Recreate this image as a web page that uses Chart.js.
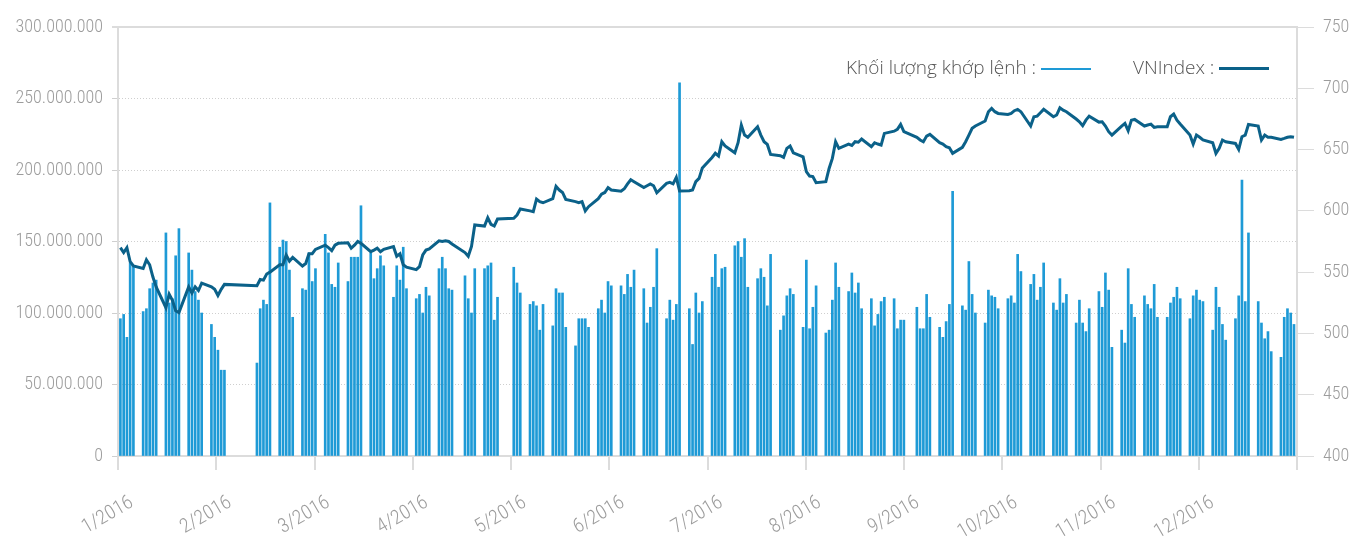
<!DOCTYPE html>
<html>
<head>
<meta charset="utf-8">
<script src="https://cdn.jsdelivr.net/npm/chart.js@4.4.1/dist/chart.umd.min.js"></script>
<style>
  html, body { margin: 0; padding: 0; background: #fff; }
  #wrap { position: relative; width: 1354px; height: 541px; }
  .legend-item {
    position: absolute;
    top: 53px;
    font-family: "Open Sans", "Noto Sans", sans-serif;
    font-weight: 300;
    font-size: 19px;
    line-height: 28px;
    color: #555;
    white-space: nowrap;
  }
  .legend-item i { display: inline-block; width: 50px; vertical-align: middle; margin-left: 5px; }
</style>
</head>
<body>
<div id="wrap">
  <canvas id="chart" width="1354" height="541"></canvas>
  <div class="legend-item" style="left:846px">Khối lượng khớp lệnh :<i style="border-top:2px solid #1e9ad6"></i></div>
  <div class="legend-item" style="left:1133px">VNIndex :<i style="border-top:3px solid #0b6189"></i></div>
</div>
<script>
// trading calendar 2016 (weekdays, minus market holidays)
const firstDay = "2016-01-04";
const lastDay = "2016-12-30";
const holidays = ["2016-02-08", "2016-02-09", "2016-02-10", "2016-02-11", "2016-02-12",
  "2016-04-18", "2016-05-02", "2016-05-03", "2016-09-02"];

const monthLabels = ["1/2016", "2/2016", "3/2016", "4/2016", "5/2016", "6/2016",
  "7/2016", "8/2016", "9/2016", "10/2016", "11/2016", "12/2016", ""];

// matched volume, millions of shares (one line per week)
const volumes = [
  96, 99, 83, 135, 132,
  101, 103, 117, 121, 123,
  156, 107, 110, 140, 159,
  142, 130, 115, 109, 100,
  92, 83, 74, 60, 60,
  65, 103, 109, 106, 177,
  146, 151, 150, 130, 97,
  117, 116, 142, 122, 131,
  155, 142, 120, 118, 135,
  122, 139, 139, 139, 175,
  142, 124, 131, 140, 133,
  111, 133, 123, 146, 117,
  110, 113, 100, 118, 112,
  131, 139, 131, 117, 116,
  126, 110, 100, 131,
  131, 133, 135, 95, 111,
  132, 121, 114,
  106, 108, 105, 88, 106,
  91, 117, 114, 114, 90,
  77, 96, 96, 96, 90,
  103, 109, 100, 122, 119,
  119, 113, 127, 118, 130,
  117, 93, 104, 118, 145,
  96, 109, 95, 106, 261,
  103, 78, 114, 100, 108,
  125, 141, 118, 131, 132,
  147, 150, 139, 152, 118,
  124, 131, 125, 105, 141,
  88, 98, 112, 117, 113,
  90, 137, 89, 104, 119,
  86, 88, 109, 135, 118,
  115, 128, 114, 121, 103,
  110, 91, 99, 108, 111,
  110, 89, 95, 95,
  104, 89, 89, 113, 97,
  90, 83, 94, 106, 185,
  105, 102, 136, 113, 100,
  93, 116, 112, 111, 103,
  110, 112, 107, 141, 129,
  120, 127, 109, 118, 135,
  107, 102, 124, 107, 113,
  93, 109, 93, 87, 103,
  115, 104, 128, 116, 76,
  88, 79, 131, 106, 97,
  112, 106, 103, 120, 97,
  97, 107, 111, 118, 110,
  96, 112, 116, 109, 108,
  88, 118, 104, 92, 81,
  96, 112, 193, 108, 156,
  108, 93, 82, 87, 73,
  69, 97, 103, 100, 92
];

// VNIndex close
const vnIndex = [
  570, 566, 570, 558.5, 555,
  553, 560, 556, 546, 538,
  521, 532, 527, 518.5, 517,
  538, 533, 538, 535, 541,
  538, 536, 531, 536, 540,
  539, 544, 543.5, 548.5, 550,
  556, 556, 564, 559, 562,
  555, 557, 565, 565, 568.5,
  572, 570, 567.5, 572, 573.5,
  574, 569.5, 572, 575, 573.5,
  566.7, 568, 569.5, 566.7, 568.6,
  570.8, 563, 565, 556, 554,
  552, 554.5, 564, 568, 569,
  575.6, 575, 575.6, 575, 573,
  566, 563, 571, 588.5,
  587.6, 594.4, 589, 587.6, 593.3,
  594, 596.6, 601.5,
  600, 599.3, 609.6, 607.5, 606.6,
  610, 620, 617, 615, 609.4,
  607.5, 606.6, 607.5, 600, 603.4,
  610, 613.7, 615, 619, 617,
  616, 618, 622, 625.4, 623.8,
  619, 620.5, 622, 620.5, 614.8,
  622.4, 623.2, 622, 627.3, 616.2,
  616.4, 617, 623.8, 626.5, 635,
  643.6, 647, 644.7, 656.4, 653,
  647.4, 655.6, 670, 661.8, 660,
  668.6, 661.8, 656.4, 654.2, 646,
  645, 643.6, 651, 652.9, 647.4,
  644, 632, 628.4, 628, 623,
  623.8, 634.6, 642.8, 656.4, 651,
  654.5, 653.4, 656.4, 656, 658.6,
  652.3, 655.6, 654.5, 653.7, 663.2,
  665, 666.5, 670.5, 664.6,
  660, 657.8, 656.4, 661, 662.4,
  655.6, 654.5, 652.3, 651.5, 646.9,
  651.8, 656.4, 661.8, 667.3, 669.2,
  673.3, 680.9, 683.6, 680.9, 679.5,
  678.7, 679.5, 681.7, 682.8, 680.9,
  669.2, 676.8, 677.3, 680, 682.8,
  676.8, 678.2, 684.1, 682.2, 680.9,
  674.9, 672.7, 669.5, 674, 677.3,
  672.4, 672.7, 669.2, 664.6, 661.8,
  669.2, 671.4, 665.4, 674, 674.6,
  669.2, 670, 670.8, 668.1, 668.6,
  668.6, 676.8, 679, 674, 670.8,
  661.8, 654.5, 661.8, 660, 657.8,
  655.6, 646.9, 651, 657.8, 656.4,
  655, 650.1, 660.5, 661.8, 670.5,
  669.2, 657.8, 661.8, 660, 660,
  658.3, 659.1, 660, 660.5, 660
];

// day of year (Jan 1 = 0) for every trading session
const DAY = 24 * 3600 * 1000;
const yearStart = Date.UTC(2016, 0, 1);
let tradingDays = [];
for (let t = Date.parse(firstDay + "T00:00:00Z"); t <= Date.parse(lastDay + "T00:00:00Z"); t += DAY) {
  let d = new Date(t);
  let wd = d.getUTCDay();
  if (wd === 0 || wd === 6) continue;
  if (holidays.includes(d.toISOString().slice(0, 10))) continue;
  tradingDays.push((t - yearStart) / DAY);
}

const xMin = 2.26;
const xMax = 364.93;

const formatDots = (n) => String(Math.round(n)).replace(/\B(?=(\d{3})+(?!\d))/g, ".");

const fontFamily = "'Liberation Sans Narrow', 'Roboto Condensed', 'Liberation Sans', sans-serif";
const axisFont = { family: fontFamily, size: 18, weight: 300 };
const labelColor = "#9c9c9c";
const lineGrey = "#dcdcdc";

const ctx = document.getElementById("chart").getContext("2d");
const chart = new Chart(ctx, {
  type: "bar",
  data: {
    datasets: [
      {
        type: "line",
        label: "VNIndex",
        data: tradingDays.map((x, i) => ({ x: x, y: vnIndex[i] })),
        yAxisID: "y1",
        borderColor: "#0b6189",
        borderWidth: 3,
        pointRadius: 0,
        tension: 0,
        order: 1,
      },
      {
        type: "bar",
        label: "Khối lượng khớp lệnh",
        data: tradingDays.map((x, i) => ({ x: x, y: volumes[i] })),
        yAxisID: "y",
        backgroundColor: "#1e9ad6",
        barThickness: 2,
        order: 2,
      },
    ],
  },
  options: {
    responsive: false,
    animation: false,
    layout: { padding: { top: 27, left: 0, right: 0, bottom: 0 } },
    plugins: {
      legend: { display: false },
      tooltip: { enabled: false },
    },
    scales: {
      x: {
        type: "linear",
        min: xMin,
        max: xMax,
        offset: false,
        afterBuildTicks: (scale) => {
          let step = (xMax - xMin) / 12;
          scale.ticks = monthLabels.map((_, i) => ({ value: xMin + i * step }));
        },
        afterFit: (scale) => { scale.height = 85; },
        grid: { drawOnChartArea: false, offset: false, tickLength: 14, color: lineGrey, lineWidth: 2 },
        border: { color: lineGrey, width: 2 },
        ticks: {
          autoSkip: false,
          minRotation: 30,
          maxRotation: 30,
          padding: 21,
          labelOffset: 14,
          color: labelColor,
          font: { family: fontFamily, size: 20, weight: 300 },
          callback: (value, index) => monthLabels[index],
        },
      },
      y: {
        position: "left",
        min: 0,
        max: 300,
        afterFit: (scale) => { scale.width = 118; },
        grid: {
          color: (c) => (c.tick && c.tick.value === 300 ? lineGrey : "#cfcfcf"),
          lineWidth: (c) => (c.tick && c.tick.value === 300 ? 2 : 1),
          tickLength: 6,
        },
        border: {
          color: lineGrey,
          width: 2,
          dash: (c) => (c.tick && (c.tick.value === 300 || c.tick.value === 0) ? [] : [1, 2]),
        },
        ticks: {
          stepSize: 50,
          padding: 9,
          color: labelColor,
          font: axisFont,
          callback: (v) => formatDots(v * 1000000),
        },
      },
      y1: {
        position: "right",
        min: 400,
        max: 750,
        afterFit: (scale) => { scale.width = 57; },
        grid: { drawOnChartArea: false, tickLength: 17, color: lineGrey },
        border: { color: lineGrey, width: 2 },
        ticks: {
          stepSize: 50,
          padding: 9,
          color: labelColor,
          font: axisFont,
        },
      },
    },
  },
});
</script>
</body>
</html>
